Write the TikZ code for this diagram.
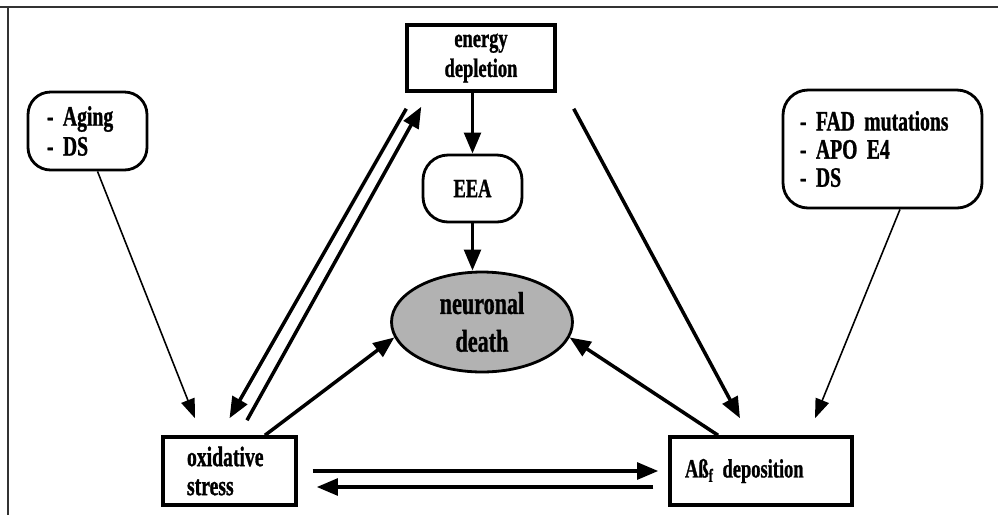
\documentclass[tikz,border=0pt]{standalone}
\usepackage{fontspec}
\setmainfont{Liberation Serif}[FakeStretch=0.7,BoldFeatures={FakeBold=1}]
\usepackage{tikz}
\usetikzlibrary{arrows.meta,positioning,shapes.geometric}
\newcommand{\labfont}[2]{\bfseries\fontsize{#1}{#2}\selectfont\spaceskip=0.16em plus 0.05em\relax}

\begin{document}
\begin{tikzpicture}[
  x=0.02cm, y=-0.02cm,
  font=\labfont{15}{17},
  sq/.style={draw=black, line width=2pt, fill=white, inner sep=0pt, align=center},
  rnd/.style={draw=black, line width=1.6pt, fill=white, rounded corners=0.45cm, inner ysep=0pt, align=left},
  cell/.style={ellipse, draw=black, line width=1.6pt, fill=black!30, inner sep=0pt, align=center},
  rel/.style={-{Triangle[length=12pt,width=9.5pt]}, line width=2pt},
  faint/.style={-{Triangle[length=11pt,width=8pt]}, line width=0.9pt},
]
\useasboundingbox (0,0) rectangle (998,515);
% frame
\draw[line width=1pt, black!80] (0,7) -- (998,7);
\draw[line width=1pt, black!80] (8,7) -- (8,515);

% top
\node[sq, minimum width=2.96cm, minimum height=1.32cm] (ener) at (481,58) {energy\\depletion};
\node[rnd, rounded corners=0.5cm, align=center, minimum width=1.98cm, minimum height=1.34cm] (eea) at (472.5,188.5) {EEA};
\node[cell, minimum width=3.62cm, minimum height=2cm, font=\labfont{18}{21.5}] (death) at (482,322) {neuronal\\death};

% risk factors
\node[rnd, font=\labfont{16}{17}, inner xsep=0.38cm, text width=1.62cm, minimum height=1.56cm] (aging) at (87.5,131) {- Aging\\- DS};
\node[rnd, rounded corners=0.5cm, font=\labfont{16}{16}, inner xsep=0.34cm, text width=3.3cm, minimum height=2.36cm] (fad) at (882.5,149) {- FAD mutations\\- APO E4\\- DS};

% bottom
\node[sq, align=left, font=\labfont{16}{16.5}, inner xsep=0.48cm, text width=1.7cm, minimum height=1.36cm] (oxi) at (229.5,471) {oxidative\\stress};
\node[sq, align=left, inner xsep=0.3cm, text width=3.04cm, minimum height=1.36cm] (abf) at (761,471) {Aß\textsubscript{f} deposition};

% energy chain
\draw[rel] (eea.north |- ener.south) -- (eea.north);
\draw[rel] (eea.south) -- (eea.south |- death.north);

% double link energy / oxidative
\draw[rel] ([xshift=0.02cm,yshift=-0.32cm]ener.south west) -- ([yshift=0.34cm]oxi.north);
\draw[rel] ([xshift=0.35cm,yshift=0.3cm]oxi.north) -- ([xshift=0.32cm,yshift=-0.28cm]ener.south west);
\draw[rel] ([xshift=0.34cm,yshift=-0.32cm]ener.south east) -- ([xshift=-0.42cm,yshift=0.34cm]abf.north);

% risk factors in
\draw[faint] ([xshift=0.2cm]aging.south) -- ([xshift=-0.69cm,yshift=0.34cm]oxi.north);
\draw[faint] ([xshift=0.35cm]fad.south) -- ([xshift=1.08cm,yshift=0.34cm]abf.north);

% to neuronal death
\draw[rel] ([xshift=0.71cm]oxi.north) -- (death.190);
\draw[rel] ([xshift=-0.86cm]abf.north) -- (death.-10);

% oxidative <-> deposition
\draw[rel] ([xshift=0.3cm]oxi.east) -- ([xshift=-0.2cm]abf.west);
\draw[rel] ([xshift=-0.3cm,yshift=-0.32cm]abf.west) -- ([xshift=0.38cm,yshift=-0.32cm]oxi.east);

\end{tikzpicture}
\end{document}
